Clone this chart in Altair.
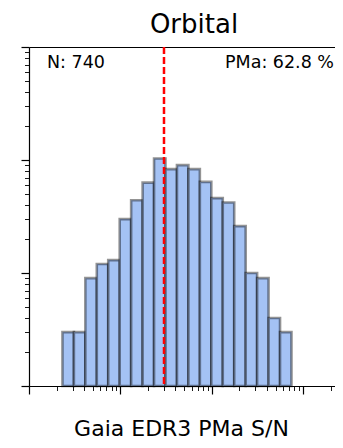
import altair as alt
import pandas as pd

# Histogram (log-spaced bins)
bin_lo = [0.2323, 0.3099, 0.4136, 0.5518, 0.7362, 0.9829, 1.3116, 1.750, 2.335, 3.116,
          4.159, 5.549, 7.405, 9.883, 13.19, 17.60, 23.49, 31.34, 41.82, 55.82]
bin_hi = [0.3099, 0.4136, 0.5518, 0.7362, 0.9829, 1.3116, 1.750, 2.335, 3.116, 4.159,
          5.549, 7.405, 9.883, 13.19, 17.60, 23.49, 31.34, 41.82, 55.82, 74.47]
counts = [3, 3, 9, 12, 13, 30, 44, 63, 103, 83, 90, 83, 64, 46, 42, 26, 10, 9, 4, 3]

threshold = [3]
x_major = [0.1, 1, 10, 100]
x_minor = [0.2, 0.3, 0.4, 0.5, 0.6, 0.7, 0.8, 0.9, 2, 3, 4, 5, 6, 7, 8, 9,
           20, 30, 40, 50, 60, 70, 80, 90, 200]
y_major = [1, 10, 100, 1000]
y_minor = [2, 3, 4, 5, 6, 7, 8, 9, 20, 30, 40, 50, 60, 70, 80, 90,
           200, 300, 400, 500, 600, 700, 800, 900]
x_domain = [0.1, 223]
y_domain = [1, 1000]

title_text = "Orbital"
n_label = "N: 740"
pma_label = "PMa: 62.8 %"

FONT = "DejaVu Sans"

hist = pd.DataFrame({"lo": bin_lo, "hi": bin_hi, "count": counts, "base": [1] * len(counts)})
xs = alt.Scale(type="log", domain=x_domain, nice=False)
ys = alt.Scale(type="log", domain=y_domain, nice=False)

bars = alt.Chart(hist).mark_bar(
    fill="#a4c2f4", stroke="black", strokeOpacity=0.42, strokeWidth=2.6
).encode(
    x=alt.X("lo:Q", scale=xs, axis=alt.Axis(
        orient="bottom", values=x_major, tickSize=8, tickWidth=1.2, tickColor="black",
        labels=False, grid=False, domain=True, domainColor="black", domainWidth=1.2,
        title="Gaia EDR3 PMa S/N", titleFont=FONT, titleFontSize=22,
        titleFontWeight="normal", titleColor="black", titleX=152, titleY=49,
        titleAlign="center", titleBaseline="alphabetic")),
    x2="hi:Q",
    y=alt.Y("count:Q", scale=ys, axis=alt.Axis(
        orient="left", values=y_major, tickSize=8, tickWidth=1.2, tickColor="black",
        labels=False, grid=False, domain=True, domainColor="black", domainWidth=1.2,
        title=None)),
    y2="base:Q",
)

xminor = alt.Chart(pd.DataFrame({"v": x_minor})).mark_point(opacity=0).encode(
    x=alt.X("v:Q", scale=xs, axis=alt.Axis(
        orient="bottom", values=x_minor, tickSize=4.5, tickWidth=0.9, tickColor="black",
        labels=False, grid=False, domain=False, title=None)),
    y=alt.value(0),
)

yminor = alt.Chart(pd.DataFrame({"v": y_minor})).mark_point(opacity=0).encode(
    y=alt.Y("v:Q", scale=ys, axis=alt.Axis(
        orient="left", values=y_minor, tickSize=4.5, tickWidth=0.9, tickColor="black",
        labels=False, grid=False, domain=False, title=None)),
    x=alt.value(0),
)

topspine = alt.Chart(pd.DataFrame({"v": x_domain})).mark_point(opacity=0).encode(
    x=alt.X("v:Q", scale=xs, axis=alt.Axis(
        orient="top", ticks=False, labels=False, grid=False, domain=True,
        domainColor="black", domainWidth=1.2, title=None)),
    y=alt.value(0),
)

rule = alt.Chart(pd.DataFrame({"t": threshold})).mark_rule(
    color="red", strokeWidth=2.5, strokeDash=[7, 3]
).encode(x=alt.X("t:Q", scale=xs, axis=None))

txt_title = alt.Chart(pd.DataFrame({"s": [title_text]})).mark_text(
    font=FONT, fontSize=26, align="center", baseline="alphabetic", color="black"
).encode(text="s:N", x=alt.value(165), y=alt.value(-14))

txt_n = alt.Chart(pd.DataFrame({"s": [n_label]})).mark_text(
    font=FONT, fontSize=17.5, align="left", baseline="alphabetic", color="black"
).encode(text="s:N", x=alt.value(18), y=alt.value(21))

txt_p = alt.Chart(pd.DataFrame({"s": [pma_label]})).mark_text(
    font=FONT, fontSize=17.5, align="right", baseline="alphabetic", color="black"
).encode(text="s:N", x=alt.value(305), y=alt.value(21))

chart = alt.layer(bars, rule, xminor, yminor, topspine, txt_title, txt_n, txt_p).resolve_axis(
    x="independent", y="independent"
).properties(
    width=306, height=339,
    autosize=alt.AutoSizeParams(type="none"),
    padding={"left": 21, "top": 39, "right": 0, "bottom": 54},
).configure_view(stroke=None).configure(background="white")

chart.save("out.html", embed_options={"renderer": "svg", "actions": False})
